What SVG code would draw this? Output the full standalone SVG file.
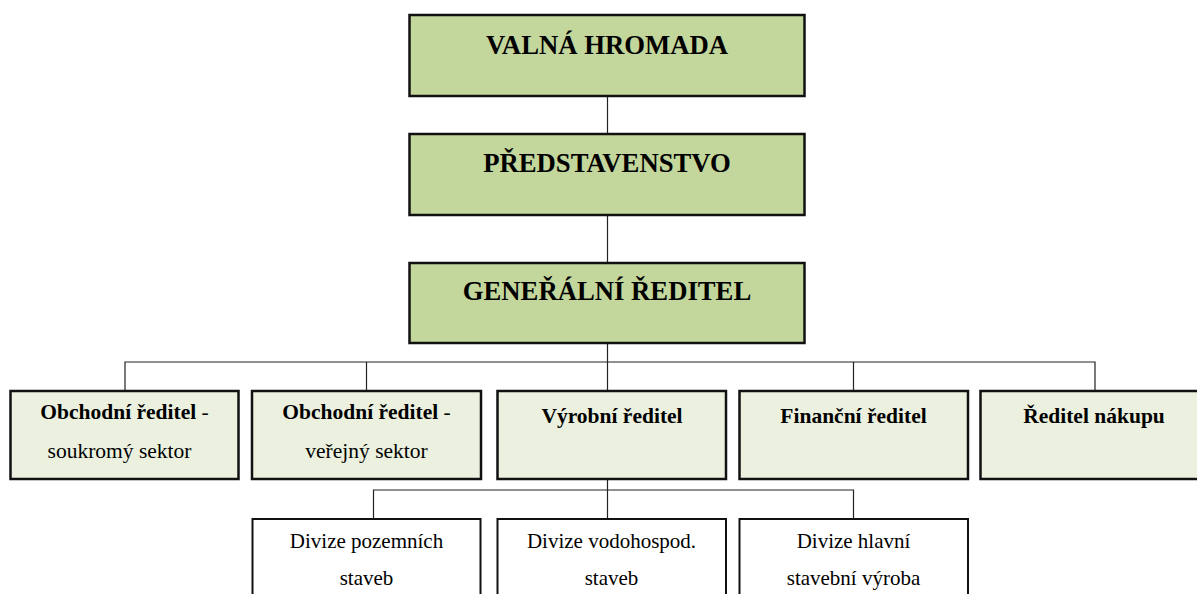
<svg xmlns="http://www.w3.org/2000/svg" width="1197" height="594" viewBox="0 0 1197 594">
<style>
.top{fill:#C3D69B;stroke:#111;stroke-width:2.5}
.mid{fill:#EBF1DE;stroke:#111;stroke-width:2.5}
.low{fill:#fff;stroke:#111;stroke-width:2}
.t1{font-family:"Liberation Serif",serif;font-weight:bold;font-size:26.7px;fill:#000;text-anchor:middle}
.t2{font-family:"Liberation Serif",serif;font-weight:bold;font-size:21.5px;fill:#000;text-anchor:middle}
.t3{font-family:"Liberation Serif",serif;font-size:21.5px;fill:#000;text-anchor:middle}
.t4{font-family:"Liberation Serif",serif;font-size:21px;fill:#000;text-anchor:middle}
.c{fill:none;stroke:#222;stroke-width:1.2}
</style>
<rect width="1197" height="594" fill="#fff"/>
<g id="connectors">
<line class="c" x1="607.5" y1="96" x2="607.5" y2="134"/>
<line class="c" x1="607.5" y1="215" x2="607.5" y2="263"/>
<line class="c" x1="607.5" y1="343" x2="607.5" y2="391"/>
<polyline class="c" points="125,391 125,362 1095,362 1095,391"/>
<line class="c" x1="366.5" y1="362" x2="366.5" y2="391"/>
<line class="c" x1="853.5" y1="362" x2="853.5" y2="391"/>
<line class="c" x1="607.5" y1="479" x2="607.5" y2="519"/>
<polyline class="c" points="373.5,519 373.5,490 853.5,490 853.5,519"/>
</g>
<g id="valna-hromada">
<rect class="top" x="409.5" y="15" width="395" height="81"/>
<text class="t1" x="607" y="54">VALNÁ HROMADA</text>
</g>
<g id="predstavenstvo">
<rect class="top" x="409.5" y="134" width="395" height="81"/>
<text class="t1" x="607" y="172">PŘEDSTAVENSTVO</text>
</g>
<g id="generalni-reditel">
<rect class="top" x="409.5" y="263" width="395" height="80"/>
<text class="t1" x="607" y="300">GENEŘÁLNÍ ŘEDITEL</text>
</g>
<g id="obchodni-soukromy">
<rect class="mid" x="10.5" y="391" width="228" height="88"/>
<text class="t2" x="124.5" y="419">Obchodní ředitel <tspan font-weight="normal">-</tspan></text>
<text class="t3" x="119.5" y="458">soukromý sektor</text>
</g>
<g id="obchodni-verejny">
<rect class="mid" x="252" y="391" width="229" height="88"/>
<text class="t2" x="366.5" y="419">Obchodní ředitel <tspan font-weight="normal">-</tspan></text>
<text class="t3" x="366.5" y="458">veřejný sektor</text>
</g>
<g id="vyrobni-reditel">
<rect class="mid" x="497.5" y="391" width="228.5" height="88"/>
<text class="t2" x="612" y="423">Výrobní ředitel</text>
</g>
<g id="financni-reditel">
<rect class="mid" x="739.5" y="391" width="228.5" height="88"/>
<text class="t2" x="853.5" y="423">Finanční ředitel</text>
</g>
<g id="reditel-nakupu">
<rect class="mid" x="980.5" y="391" width="230" height="88"/>
<text class="t2" x="1094" y="423">Ředitel nákupu</text>
</g>
<g id="divize-pozemnich">
<rect class="low" x="252.5" y="519" width="228" height="90"/>
<text class="t4" x="366.5" y="548">Divize pozemních</text>
<text class="t4" x="366.5" y="585">staveb</text>
</g>
<g id="divize-vodohospod">
<rect class="low" x="497.5" y="519" width="228.5" height="90"/>
<text class="t4" x="611.5" y="548">Divize vodohospod.</text>
<text class="t4" x="611.5" y="585">staveb</text>
</g>
<g id="divize-hlavni">
<rect class="low" x="739.5" y="519" width="228.5" height="90"/>
<text class="t4" x="853.5" y="548">Divize hlavní</text>
<text class="t4" x="853.5" y="585">stavební výroba</text>
</g>
</svg>
